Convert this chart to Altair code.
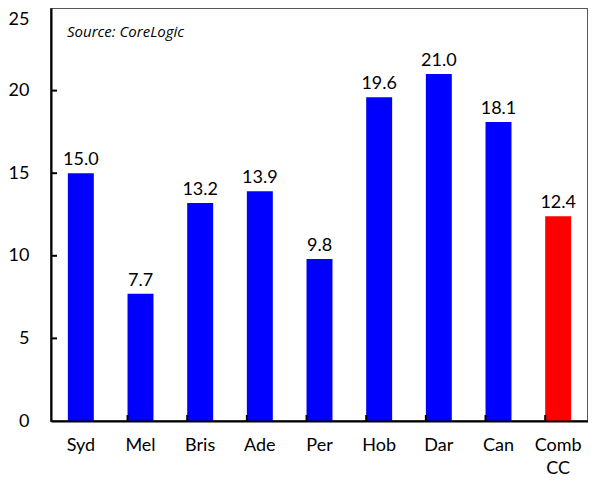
import altair as alt
import pandas as pd

categories = ["Syd", "Mel", "Bris", "Ade", "Per", "Hob", "Dar", "Can", "Comb CC"]
values = [15.0, 7.7, 13.2, 13.9, 9.8, 19.6, 21.0, 18.1, 12.4]
colors = ["#0000FF"] * 8 + ["#FF0000"]
y_ticks = [0, 5, 10, 15, 20, 25]
source_note = "Source: CoreLogic"

W, H = 537, 413
FONT = "Lato"

df = pd.DataFrame({"cat": categories, "val": values, "col": colors})
xscale = alt.Scale(domain=categories, paddingInner=0.565, paddingOuter=0.2825)
yscale = alt.Scale(domain=[0, 25], nice=False)

x_enc = alt.X(
    "cat:N", sort=categories, scale=xscale, title=None,
    axis=alt.Axis(
        labelAngle=0, ticks=False, domainColor="black", domainWidth=2,
        labelFont=FONT, labelFontSize=18, labelColor="black", labelPadding=15,
        labelLineHeight=23, zindex=1,
        labelExpr="datum.label == 'Comb CC' ? ['Comb', 'CC'] : datum.label",
    ),
)
y_enc = alt.Y(
    "val:Q", scale=yscale, title=None,
    axis=alt.Axis(
        values=y_ticks, ticks=False, grid=False, domainColor="black", domainWidth=2,
        labelFont=FONT, labelFontSize=18, labelColor="black", labelPadding=22,
        labelBaseline=alt.ExprRef(expr="datum.value == 25 ? 'top' : 'middle'"),
        labelOffset=alt.ExprRef(expr="datum.value == 25 ? 2 : 0"),
        zindex=1,
    ),
)

bars = alt.Chart(df).mark_bar().encode(
    x=x_enc, y=y_enc, color=alt.Color("col:N", scale=None)
)

labels = alt.Chart(df).mark_text(
    baseline="alphabetic", dy=-8, font=FONT, fontSize=18, color="black"
).encode(
    x=alt.X("cat:N", sort=categories, scale=xscale),
    y=alt.Y("val:Q", scale=yscale),
    text=alt.Text("val:Q", format=".1f"),
)

ytick_df = pd.DataFrame({"v": y_ticks[1:-1]})
yticks = alt.Chart(ytick_df).mark_rule(color="black", strokeWidth=2).encode(
    y=alt.Y("v:Q", scale=yscale),
    x=alt.value(0), x2=alt.value(6),
)

xtick_df = pd.DataFrame({"cat": categories[1:]})
xticks = alt.Chart(xtick_df).mark_rule(color="black", strokeWidth=2).encode(
    x=alt.X("cat:N", sort=categories, scale=xscale, bandPosition=0),
    y=alt.value(H), y2=alt.value(H - 6),
)

note = alt.Chart(pd.DataFrame({"t": [source_note]})).mark_text(
    align="left", baseline="alphabetic", font="Open Sans", fontSize=15,
    fontStyle="italic", color="black"
).encode(text="t:N", x=alt.value(16), y=alt.value(29))

chart = alt.layer(bars, labels, yticks, xticks, note).properties(
    width=W, height=H,
    autosize=alt.AutoSizeParams(type="none"),
    padding={"left": 43, "top": 0, "right": 0, "bottom": 70},
).configure_view(
    stroke="#595959", strokeWidth=2
)

chart.save("out.html", embed_options={"renderer": "svg", "actions": False})
